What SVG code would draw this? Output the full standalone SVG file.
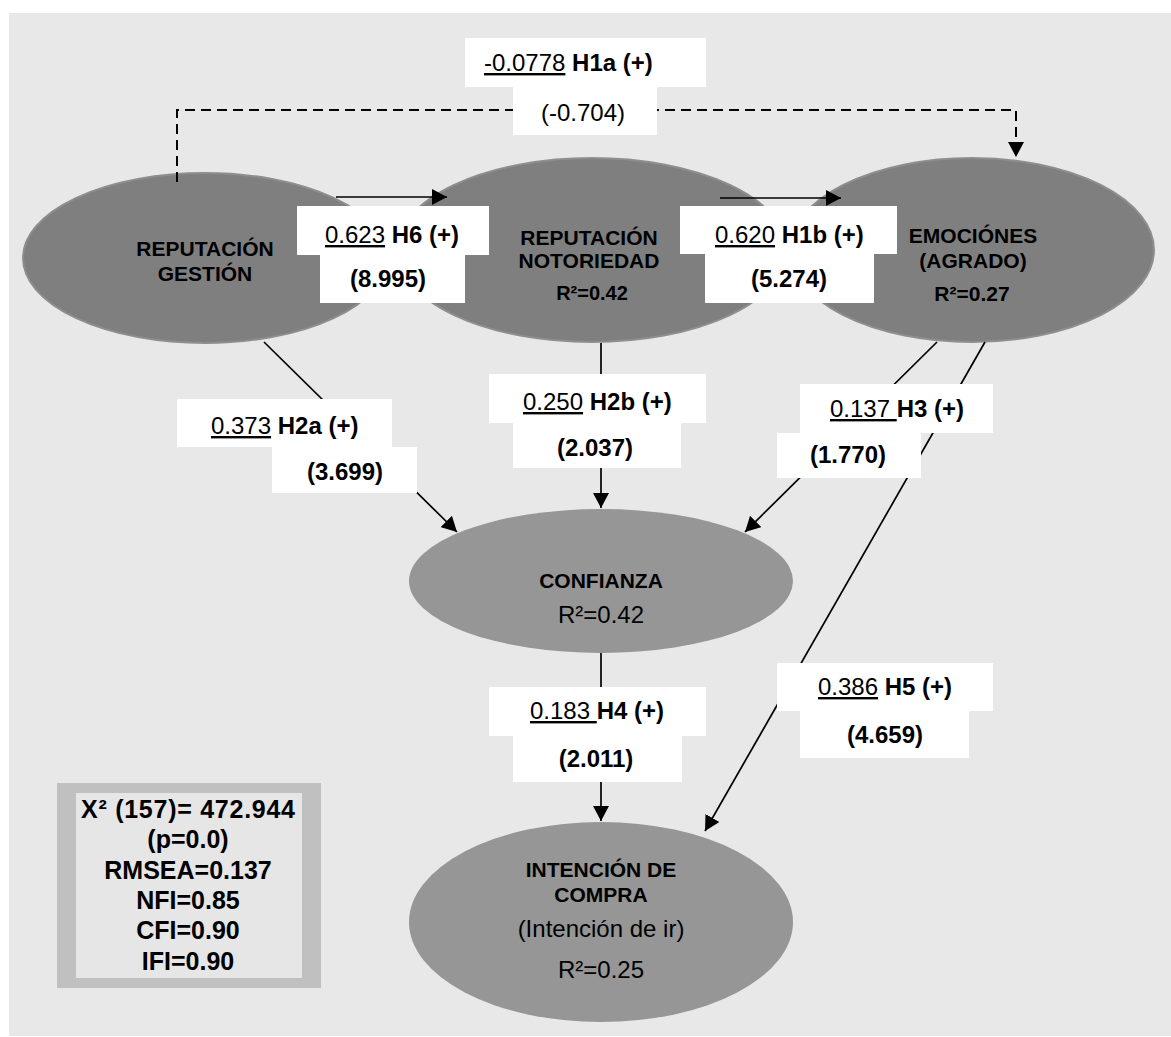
<svg xmlns="http://www.w3.org/2000/svg" width="1171" height="1037" viewBox="0 0 1171 1037">
<style>
text{font-family:"Liberation Sans",Arial,sans-serif;fill:#000}
.t{font-size:21px;font-weight:bold;text-anchor:middle}
.rb{font-size:20px;font-weight:bold;text-anchor:middle}
.rr{font-size:24px;text-anchor:middle}
.lb{font-size:24px}
.b{font-weight:bold}
.u{text-decoration:underline}
.st{font-size:25px;font-weight:bold;text-anchor:middle}
.top{fill:#7f7f7f;stroke:#8e8e8e;stroke-width:2}
.low{fill:#969696}
.box{fill:#ffffff}
.ln{stroke:#000;stroke-width:1.7;fill:none}
.ar{marker-end:url(#ah)}
.dash{stroke:#000;stroke-width:2;fill:none;stroke-dasharray:10 6}
</style>
<defs>
<marker id="ah" markerUnits="userSpaceOnUse" markerWidth="16" markerHeight="16" refX="15" refY="8" orient="auto">
<path d="M0,0 L15,8 L0,16 Z" fill="#000"/>
</marker>
</defs>
<rect x="9" y="13" width="1162" height="1023" fill="#e8e8e8"/>

<g id="nodes">
<g id="rep-gestion">
<ellipse class="top" cx="205" cy="258" rx="182" ry="85"/>
<text class="t" x="205" y="256">REPUTACIÓN</text>
<text class="t" x="205" y="281">GESTIÓN</text>
</g>
<g id="rep-notoriedad">
<ellipse class="top" cx="592" cy="250" rx="195" ry="92"/>
<text class="t" x="589" y="245">REPUTACIÓN</text>
<text class="t" x="589" y="268">NOTORIEDAD</text>
<text class="rb" x="592" y="300">R²=0.42</text>
</g>
<g id="emociones">
<ellipse class="top" cx="972" cy="250" rx="182" ry="92"/>
<text class="t" x="973" y="243">EMOCIÓNES</text>
<text class="t" x="973" y="268">(AGRADO)</text>
<text class="t" x="972" y="301">R²=0.27</text>
</g>
<g id="confianza">
<ellipse class="low" cx="601" cy="581" rx="192" ry="72"/>
<text class="t" x="601" y="588">CONFIANZA</text>
<text class="rr" x="601" y="623">R²=0.42</text>
</g>
<g id="intencion">
<ellipse class="low" cx="601" cy="922" rx="192" ry="100"/>
<text class="t" x="601" y="877">INTENCIÓN DE</text>
<text class="t" x="601" y="902">COMPRA</text>
<text class="rr" x="601" y="937">(Intención de ir)</text>
<text class="rr" x="601" y="978">R²=0.25</text>
</g>
<g id="fit-stats">
<rect x="57" y="783" width="264" height="205" fill="#c0c0c0"/>
<rect x="76" y="793" width="226" height="185" fill="#e6e6e6"/>
<text class="st" x="188" y="818" textLength="214" lengthAdjust="spacing">X² (157)= 472.944</text>
<text class="st" x="188" y="848">(p=0.0)</text>
<text class="st" x="188" y="879">RMSEA=0.137</text>
<text class="st" x="188" y="909">NFI=0.85</text>
<text class="st" x="188" y="939">CFI=0.90</text>
<text class="st" x="188" y="970">IFI=0.90</text>
</g>
</g>

<g id="connectors">
<path class="dash ar" d="M177,182 V110 H1016 V157"/>
<line class="ln ar" x1="336" y1="197" x2="447" y2="197"/>
<line class="ln ar" x1="720" y1="198" x2="841" y2="198"/>
<line class="ln ar" x1="264" y1="342" x2="457" y2="532"/>
<line class="ln ar" x1="601" y1="343" x2="601" y2="508"/>
<line class="ln ar" x1="937" y1="342" x2="745" y2="532"/>
<line class="ln ar" x1="601" y1="653" x2="601" y2="821"/>
<line class="ln ar" x1="985" y1="342" x2="705" y2="831"/>
</g>

<g id="labels">
<g id="lab-h1a">
<rect class="box" x="465" y="38" width="241" height="49"/>
<rect class="box" x="513" y="87" width="144" height="48"/>
<text class="lb" x="484" y="71"><tspan class="u">-0.0778</tspan> <tspan class="b">H1a (+)</tspan></text>
<text class="lb" x="583" y="121" text-anchor="middle">(-0.704)</text>
</g>
<g id="lab-h6">
<rect class="box" x="297" y="206" width="192" height="49"/>
<rect class="box" x="320" y="255" width="145" height="48"/>
<text class="lb" x="325" y="243"><tspan class="u">0.623</tspan> <tspan class="b">H6 (+)</tspan></text>
<text class="lb b" x="388" y="287" text-anchor="middle">(8.995)</text>
</g>
<g id="lab-h1b">
<rect class="box" x="680" y="206" width="217" height="48"/>
<rect class="box" x="705" y="254" width="169" height="49"/>
<text class="lb" x="715" y="243"><tspan class="u">0.620</tspan> <tspan class="b">H1b (+)</tspan></text>
<text class="lb b" x="789" y="287" text-anchor="middle">(5.274)</text>
</g>
<g id="lab-h2a">
<rect class="box" x="177" y="399" width="215" height="48"/>
<rect class="box" x="272" y="447" width="145" height="46"/>
<text class="lb" x="211" y="434"><tspan class="u">0.373</tspan> <tspan class="b">H2a (+)</tspan></text>
<text class="lb b" x="345" y="480" text-anchor="middle">(3.699)</text>
</g>
<g id="lab-h2b">
<rect class="box" x="489" y="374" width="217" height="49"/>
<rect class="box" x="513" y="423" width="168" height="45"/>
<text class="lb" x="523" y="410"><tspan class="u">0.250</tspan> <tspan class="b">H2b (+)</tspan></text>
<text class="lb b" x="595" y="456" text-anchor="middle">(2.037)</text>
</g>
<g id="lab-h3">
<rect class="box" x="800" y="384" width="193" height="49"/>
<rect class="box" x="777" y="433" width="144" height="45"/>
<text class="lb" x="830" y="417"><tspan class="u">0.137 </tspan><tspan class="b">H3 (+)</tspan></text>
<text class="lb b" x="848" y="463" text-anchor="middle">(1.770)</text>
</g>
<g id="lab-h4">
<rect class="box" x="489" y="687" width="217" height="49"/>
<rect class="box" x="513" y="736" width="169" height="46"/>
<text class="lb" x="530" y="719"><tspan class="u">0.183 </tspan><tspan class="b">H4 (+)</tspan></text>
<text class="lb b" x="596" y="767" text-anchor="middle">(2.011)</text>
</g>
<g id="lab-h5">
<rect class="box" x="777" y="663" width="216" height="48"/>
<rect class="box" x="800" y="711" width="169" height="47"/>
<text class="lb" x="818" y="695"><tspan class="u">0.386</tspan> <tspan class="b">H5 (+)</tspan></text>
<text class="lb b" x="885" y="743" text-anchor="middle">(4.659)</text>
</g>
</g>
</svg>
